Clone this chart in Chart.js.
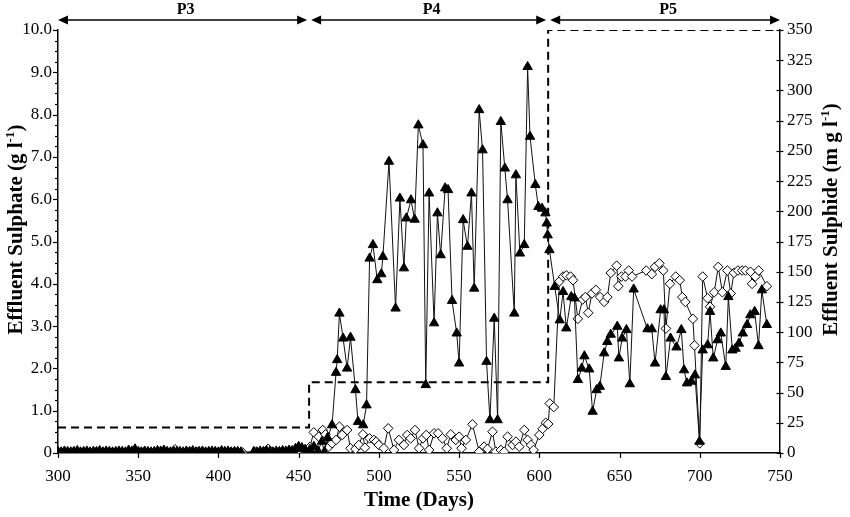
<!DOCTYPE html>
<html>
<head>
<meta charset="utf-8">
<script src="https://cdn.jsdelivr.net/npm/chart.js@4.4.1/dist/chart.umd.min.js"></script>
<style>
html,body{margin:0;padding:0;background:#fff;}
#wrap{width:850px;height:517px;}
</style>
</head>
<body>
<div id="wrap"><canvas id="c" width="850" height="517"></canvas></div>
<script>
// ---- Periods and influent sulphate (dashed step line, g/l) ----
const periodLabels = ['P3', 'P4', 'P5'];
const periodBounds = [300, 456.5, 605.5, 750];
const influentSulphate = [0.6, 1.67, 10.0];

// ---- Effluent sulphate (filled triangles, g/l) ----
const p3aSulphateDays = [300,302,304,306,308,310,312,314,316,318,320,322,324,326,328,330,332,334,336,338,340,342,344,346,348,350,352,354,356,358,360,362,364,366,368,370,372,374,376,378,380,382,384,386,388,390,392,394,396,398,400,402,404,406,408,410,412,414];
const p3aSulphateVals = [0.03,0.02,0.04,0.03,0.02,0.03,0.05,0.02,0.03,0.04,0.02,0.03,0.03,0.05,0.02,0.04,0.03,0.02,0.03,0.04,0.03,0.02,0.06,0.04,0.09,0.03,0.02,0.04,0.03,0.02,0.03,0.05,0.04,0.06,0.03,0.02,0.04,0.03,0.03,0.02,0.04,0.03,0.05,0.02,0.03,0.04,0.02,0.03,0.04,0.03,0.02,0.05,0.03,0.04,0.02,0.03,0.03,0.02];
const p3bSulphateDays = [422,424,426,428,430,432,434,436,438,440,442,444,446,448,450,452,454];
const p3bSulphateVals = [0.03,0.02,0.04,0.03,0.05,0.03,0.02,0.04,0.03,0.05,0.04,0.06,0.05,0.10,0.15,0.12,0.08];
const p4SulphateDays = [457,459.5,462,464.5,466,468,470.8,473.3,474,475.4,477.7,480.2,482.3,485.4,487,490.2,492.3,494.2,496.3,499,501.5,502.5,506.3,510.4,513.1,515.6,517.1,520,522.3,524.6,527.5,529.2,531.3,534.4,536.5,538.5,541.3,543.1,545.6,548.5,550,552.5,555.2,557.7,559.4,562.5,564.6,567.1,569.2,571.9,574,576,578.5,580.2,584.4,585.4,587.9,590.6,592.7,594.2,597.5,599.4,601.7,603.8,604.6,605.2,606.3];
const p4SulphateVals = [0.08,0.15,0.05,0.27,0.02,0.36,0.66,1.90,2.20,3.30,2.71,2.00,2.73,1.49,0.74,0.66,1.13,4.60,4.92,4.09,4.23,4.64,6.89,3.42,6.02,4.37,5.55,5.98,5.52,7.75,7.28,1.61,6.14,3.07,5.67,4.68,6.26,6.22,3.60,2.83,2.12,5.51,4.88,6.14,3.89,8.11,7.16,2.16,0.78,3.18,0.78,7.83,6.73,5.98,3.30,6.57,4.72,4.92,9.13,7.48,6.34,5.82,5.78,5.67,5.43,5.15,4.80];
const p5SulphateDays = [609.6,612.7,614.8,616.8,619.9,621.9,624,626.4,628.1,631.1,633.2,635.7,637.7,640.4,642.4,644.5,648.6,649.6,651.6,654.3,656.4,658.8,667.4,670.1,672.1,675.6,677.7,678.9,681.8,685.5,688.5,690.2,692,694.7,697,699.8,701.8,704.9,706.4,708.4,711.1,713.1,716.2,717.8,720.3,722.3,724.4,726.8,729.5,731.5,734.2,736.6,738.7,741.8];
const p5SulphateVals = [3.93,3.14,3.81,2.95,3.69,3.66,1.73,2.00,2.29,1.98,0.98,1.49,1.57,2.36,2.63,2.80,2.99,2.24,2.71,2.91,1.63,3.87,2.93,2.93,2.12,3.38,3.38,1.80,2.71,2.50,2.91,1.96,1.65,1.69,1.84,0.27,2.43,2.55,3.34,2.24,2.67,2.83,2.04,3.69,2.43,2.47,2.59,2.83,3.03,3.26,3.34,2.53,3.85,3.03];

// ---- Effluent sulphide (open diamonds, mg/l) ----
const p3SulphideDays = [302,309,316,323,330,337,344,351,358,365,373,380,387,394,401,408,415,423,431,438,445,452];
const p3SulphideVals = [0.5,0.3,0.8,0.4,0.6,0.2,1.0,0.5,0.3,0.7,3.0,0.4,0.6,0.5,0.3,0.8,0.4,0.6,3.5,0.5,1.0,0.8];
const p4SulphideDays = [455,457,459.4,462.5,465,466.7,468.8,470.8,473.3,475.4,477.1,480.2,482.3,485.4,487.5,490,491.3,494.2,496.9,498.3,500,503.1,505.8,509.4,512.5,515.6,517.7,519.8,522.5,525,527.5,529.5,531.3,534.4,536.9,539.6,542.3,544.8,547.9,550,551.5,554.2,558.3,562.5,565.6,567.7,570.8,572.9,576,578.1,580.2,583.3,585.4,587.5,590.6,592.7,594.8,596.4,600,602,604,605.5,606.5,609];
const p4SulphideVals = [2,5,17.1,13.5,19,15.4,5.2,8,10.8,21.8,14.9,19,3.9,3.3,6.6,15.4,4.4,12.1,10.8,9.4,6.6,3.9,20.4,2.5,10.8,6.6,14.9,12.1,19,3.9,12.1,14.9,2.5,16.3,16.3,12.1,3.9,15.4,10.8,13.5,3.9,10.8,23.7,1.1,5.2,3.3,17.6,1.1,2.5,1.1,13.5,6.6,9.4,5.2,19,10.8,6.6,2.5,14.9,20,25,24,41,38];
const p5SulphideDays = [612.5,614.8,616.8,619.5,621,624,627,628.7,630.5,632.8,635.2,637.9,640.4,642.4,644.5,648.2,649.2,651.2,653.7,655.7,657.8,666.6,670.1,672.1,674.8,677.3,678.9,681.4,685,687.5,689.1,691,695.7,696.7,700,701.8,704.9,706.4,709,711.5,714.1,717.2,719.3,721.3,723.8,726.4,728.5,731.6,732.6,734.6,736.7,741.8];
const p5SulphideVals = [142,146,147,146,143,111,127,129,116,132,135,129,125,129,149,155,138,146,146,151,146,151,148,154,157,151,103,140,146,143,129,125,111,89,8,146,128,121,133,154,133,151,132,149,151,151,151,150,140,146,151,138];

// ---- Axis ranges / titles ----
const xRange = [300, 750, 50];
const leftRange = [0, 10, 1];
const rightRange = [0, 350, 25];
const xTitle = 'Time (Days)';
const leftTitle = ['Effluent Sulphate (g l', '-1', ')'];
const rightTitle = ['Effluent Sulphide (m g l', '-1', ')'];

function pts(days, vals) { return days.map((d, i) => ({x: d, y: vals[i]})); }

const sulphatePts = pts(p3aSulphateDays.concat(p3bSulphateDays, p4SulphateDays, p5SulphateDays),
                        p3aSulphateVals.concat(p3bSulphateVals, p4SulphateVals, p5SulphateVals));
const sulphidePts = pts(p3SulphideDays.concat(p4SulphideDays, p5SulphideDays),
                        p3SulphideVals.concat(p4SulphideVals, p5SulphideVals));
const influentPts = [];
for (let i = 0; i < influentSulphate.length; i++) {
  influentPts.push({x: periodBounds[i], y: influentSulphate[i]});
  influentPts.push({x: periodBounds[i + 1], y: influentSulphate[i]});
}

const SERIF = '"Liberation Serif", "Times New Roman", serif';

const decorPlugin = {
  id: 'decor',
  afterDraw(chart) {
    const ctx = chart.ctx;
    const ca = chart.chartArea;
    const xs = chart.scales.x, yl = chart.scales.y, yr = chart.scales.y2;
    ctx.save();
    ctx.strokeStyle = '#000';
    ctx.fillStyle = '#000';
    ctx.lineWidth = 1.2;
    // left axis ticks (major + minor)
    for (let v = leftRange[0]; v <= leftRange[1] + 1e-6; v += 0.25) {
      const y = Math.round(yl.getPixelForValue(v)) + 0.5;
      const major = Math.abs(v - Math.round(v)) < 1e-6;
      ctx.beginPath();
      ctx.moveTo(ca.left - (major ? 5 : 3), y);
      ctx.lineTo(ca.left, y);
      ctx.stroke();
    }
    // right axis ticks (crossing)
    yr.ticks.forEach(t => {
      const y = Math.round(yr.getPixelForValue(t.value)) + 0.5;
      ctx.beginPath();
      ctx.moveTo(ca.right - 3.5, y);
      ctx.lineTo(ca.right + 3.5, y);
      ctx.stroke();
    });
    // x axis ticks
    xs.ticks.forEach(t => {
      const x = Math.round(xs.getPixelForValue(t.value)) + 0.5;
      ctx.beginPath();
      ctx.moveTo(x, ca.bottom);
      ctx.lineTo(x, ca.bottom + 5);
      ctx.stroke();
    });

    // period arrows
    const ay = 20;
    ctx.lineWidth = 1.5;
    for (let i = 0; i < periodLabels.length; i++) {
      const x0 = xs.getPixelForValue(periodBounds[i]) + (i === 0 ? 0 : 2);
      const x1 = xs.getPixelForValue(periodBounds[i + 1]) - (i === periodLabels.length - 1 ? 0 : 2);
      ctx.beginPath();
      ctx.moveTo(x0 + 6, ay);
      ctx.lineTo(x1 - 6, ay);
      ctx.stroke();
      ctx.beginPath();
      ctx.moveTo(x0, ay); ctx.lineTo(x0 + 10, ay - 4.5); ctx.lineTo(x0 + 10, ay + 4.5); ctx.closePath();
      ctx.fill();
      ctx.beginPath();
      ctx.moveTo(x1, ay); ctx.lineTo(x1 - 10, ay - 4.5); ctx.lineTo(x1 - 10, ay + 4.5); ctx.closePath();
      ctx.fill();
      ctx.font = 'bold 16px ' + SERIF;
      ctx.textAlign = 'center';
      ctx.textBaseline = 'middle';
      ctx.fillText(periodLabels[i], (x0 + x1) / 2 + 3, 10);
    }

    // vertical axis titles (reading bottom to top) with superscript
    function vTitle(parts, cx, cy) {
      ctx.save();
      ctx.translate(cx, cy);
      ctx.rotate(-Math.PI / 2);
      const big = 'bold 21px ' + SERIF, small = 'bold 13px ' + SERIF;
      ctx.font = big; const w0 = ctx.measureText(parts[0]).width;
      ctx.font = small; const w1 = ctx.measureText(parts[1]).width;
      ctx.font = big; const w2 = ctx.measureText(parts[2]).width;
      let x = -(w0 + w1 + w2) / 2;
      ctx.textAlign = 'left';
      ctx.textBaseline = 'middle';
      ctx.font = big; ctx.fillText(parts[0], x, 0); x += w0;
      ctx.font = small; ctx.fillText(parts[1], x, -6); x += w1;
      ctx.font = big; ctx.fillText(parts[2], x, 0);
      ctx.restore();
    }
    const midY = (ca.top + ca.bottom) / 2;
    vTitle(leftTitle, 17, midY - 12);
    vTitle(rightTitle, 832, midY - 22);
    ctx.restore();
  }
};

new Chart(document.getElementById('c'), {
  type: 'scatter',
  data: {
    datasets: [
      {
        label: 'Effluent sulphate',
        data: sulphatePts,
        yAxisID: 'y',
        showLine: true,
        borderColor: '#111',
        borderWidth: 1,
        pointStyle: 'triangle',
        pointRadius: 5.4,
        pointBackgroundColor: '#000',
        pointBorderColor: '#000',
        pointBorderWidth: 1,
        order: 0
      },
      {
        label: 'Effluent sulphide',
        data: sulphidePts,
        yAxisID: 'y2',
        showLine: true,
        borderColor: '#111',
        borderWidth: 1,
        pointStyle: 'rectRot',
        pointRadius: 4.8,
        pointBackgroundColor: '#fff',
        pointBorderColor: '#000',
        pointBorderWidth: 1,
        order: 1
      },
      {
        label: 'Influent sulphate',
        data: influentPts,
        yAxisID: 'y',
        showLine: true,
        borderColor: '#000',
        borderWidth: 2,
        borderDash: [8, 5],
        pointRadius: 0,
        order: 2
      }
    ]
  },
  options: {
    responsive: false,
    animation: false,
    devicePixelRatio: 1,
    layout: {padding: {top: 30, left: 0, right: 0, bottom: 0}},
    plugins: {legend: {display: false}, tooltip: {enabled: false}},
    scales: {
      x: {
        type: 'linear', position: 'bottom',
        min: xRange[0], max: xRange[1],
        afterFit(s) { s.height = 64; },
        grid: {display: false, drawTicks: false},
        border: {display: true, color: '#000', width: 1.5},
        ticks: {stepSize: xRange[2], padding: 13, color: '#000', font: {family: SERIF, size: 17}, maxRotation: 0,
                callback: v => String(v)},
        title: {display: true, text: xTitle, color: '#000', font: {family: SERIF, size: 21, weight: 'bold'},
                padding: {top: 0, bottom: 4}}
      },
      y: {
        type: 'linear', position: 'left',
        min: leftRange[0], max: leftRange[1],
        afterFit(s) { s.width = 58; },
        grid: {display: false, drawTicks: false},
        border: {display: true, color: '#000', width: 1.5},
        ticks: {stepSize: leftRange[2], padding: 6, color: '#000', font: {family: SERIF, size: 17},
                callback: v => (v === 0 ? '0' : v.toFixed(1))}
      },
      y2: {
        type: 'linear', position: 'right',
        min: rightRange[0], max: rightRange[1],
        afterFit(s) { s.width = 70; },
        grid: {display: false, drawTicks: false},
        border: {display: true, color: '#000', width: 1.5},
        ticks: {stepSize: rightRange[2], padding: 7, color: '#000', font: {family: SERIF, size: 17},
                callback: v => String(v)}
      }
    }
  },
  plugins: [decorPlugin]
});
</script>
</body>
</html>
